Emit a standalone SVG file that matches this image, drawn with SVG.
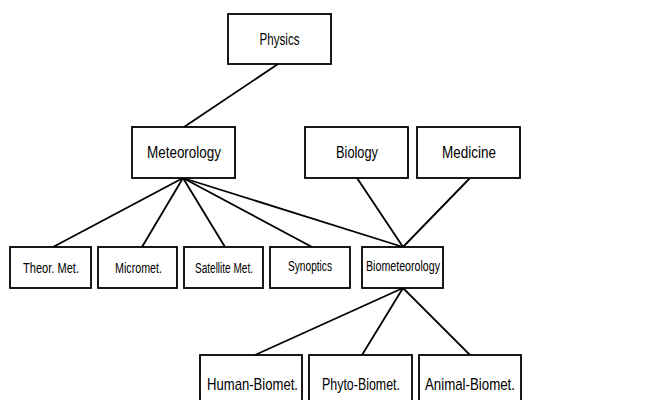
<svg xmlns="http://www.w3.org/2000/svg" width="669" height="400" viewBox="0 0 669 400">
<style>
.box{fill:#fff;stroke:#000;stroke-width:1.8}
.lbl{font-family:"Liberation Sans",Arial,sans-serif;fill:#000;text-anchor:middle}
.big{font-size:17px}
.sm{font-size:14px}
.con line{stroke:#000;stroke-width:1.8}
</style>
<rect width="669" height="400" fill="#fff"/>
<g class="con">
<line x1="278" y1="64" x2="184" y2="127"/>
<line x1="183" y1="178" x2="53" y2="247"/>
<line x1="183" y1="178" x2="142" y2="247"/>
<line x1="183" y1="178" x2="225" y2="247"/>
<line x1="183" y1="178" x2="312" y2="247"/>
<line x1="183" y1="178" x2="403" y2="247"/>
<line x1="357" y1="178" x2="403" y2="247"/>
<line x1="470" y1="178" x2="403" y2="247"/>
<line x1="403" y1="288" x2="255" y2="355"/>
<line x1="403" y1="288" x2="362" y2="355"/>
<line x1="403" y1="288" x2="470" y2="355"/>
</g>
<g id="physics"><rect class="box" x="228" y="14" width="103" height="50"/><text class="lbl big" x="279.5" y="45" textLength="40" lengthAdjust="spacingAndGlyphs">Physics</text></g>
<g id="meteorology"><rect class="box" x="132" y="127" width="103" height="51"/><text class="lbl big" x="184" y="158" textLength="74" lengthAdjust="spacingAndGlyphs">Meteorology</text></g>
<g id="biology"><rect class="box" x="305" y="127" width="103" height="51"/><text class="lbl big" x="357" y="158" textLength="42" lengthAdjust="spacingAndGlyphs">Biology</text></g>
<g id="medicine"><rect class="box" x="417" y="127" width="103" height="51"/><text class="lbl big" x="469" y="158" textLength="54" lengthAdjust="spacingAndGlyphs">Medicine</text></g>
<g id="theor"><rect class="box" x="10" y="247" width="81" height="41"/><text class="lbl sm" x="51" y="273" textLength="56" lengthAdjust="spacingAndGlyphs">Theor.  Met.</text></g>
<g id="micromet"><rect class="box" x="98" y="247" width="79" height="41"/><text class="lbl sm" x="138.5" y="273" textLength="47" lengthAdjust="spacingAndGlyphs">Micromet.</text></g>
<g id="satellite"><rect class="box" x="184" y="247" width="79" height="41"/><text class="lbl sm" x="224" y="273" textLength="58" lengthAdjust="spacingAndGlyphs">Satellite Met.</text></g>
<g id="synoptics"><rect class="box" x="270" y="247" width="80" height="41"/><text class="lbl sm" x="310" y="271" textLength="44" lengthAdjust="spacingAndGlyphs">Synoptics</text></g>
<g id="biometeorology"><rect class="box" x="362" y="247" width="81" height="41"/><text class="lbl sm" x="403" y="271" textLength="74" lengthAdjust="spacingAndGlyphs">Biometeorology</text></g>
<g id="human"><rect class="box" x="200" y="355" width="102" height="50"/><text class="lbl big" x="252.5" y="390" textLength="91" lengthAdjust="spacingAndGlyphs">Human-Biomet.</text></g>
<g id="phyto"><rect class="box" x="309" y="355" width="103" height="50"/><text class="lbl big" x="361" y="390" textLength="78" lengthAdjust="spacingAndGlyphs">Phyto-Biomet.</text></g>
<g id="animal"><rect class="box" x="419" y="355" width="102" height="50"/><text class="lbl big" x="470" y="390" textLength="90" lengthAdjust="spacingAndGlyphs">Animal-Biomet.</text></g>
</svg>
